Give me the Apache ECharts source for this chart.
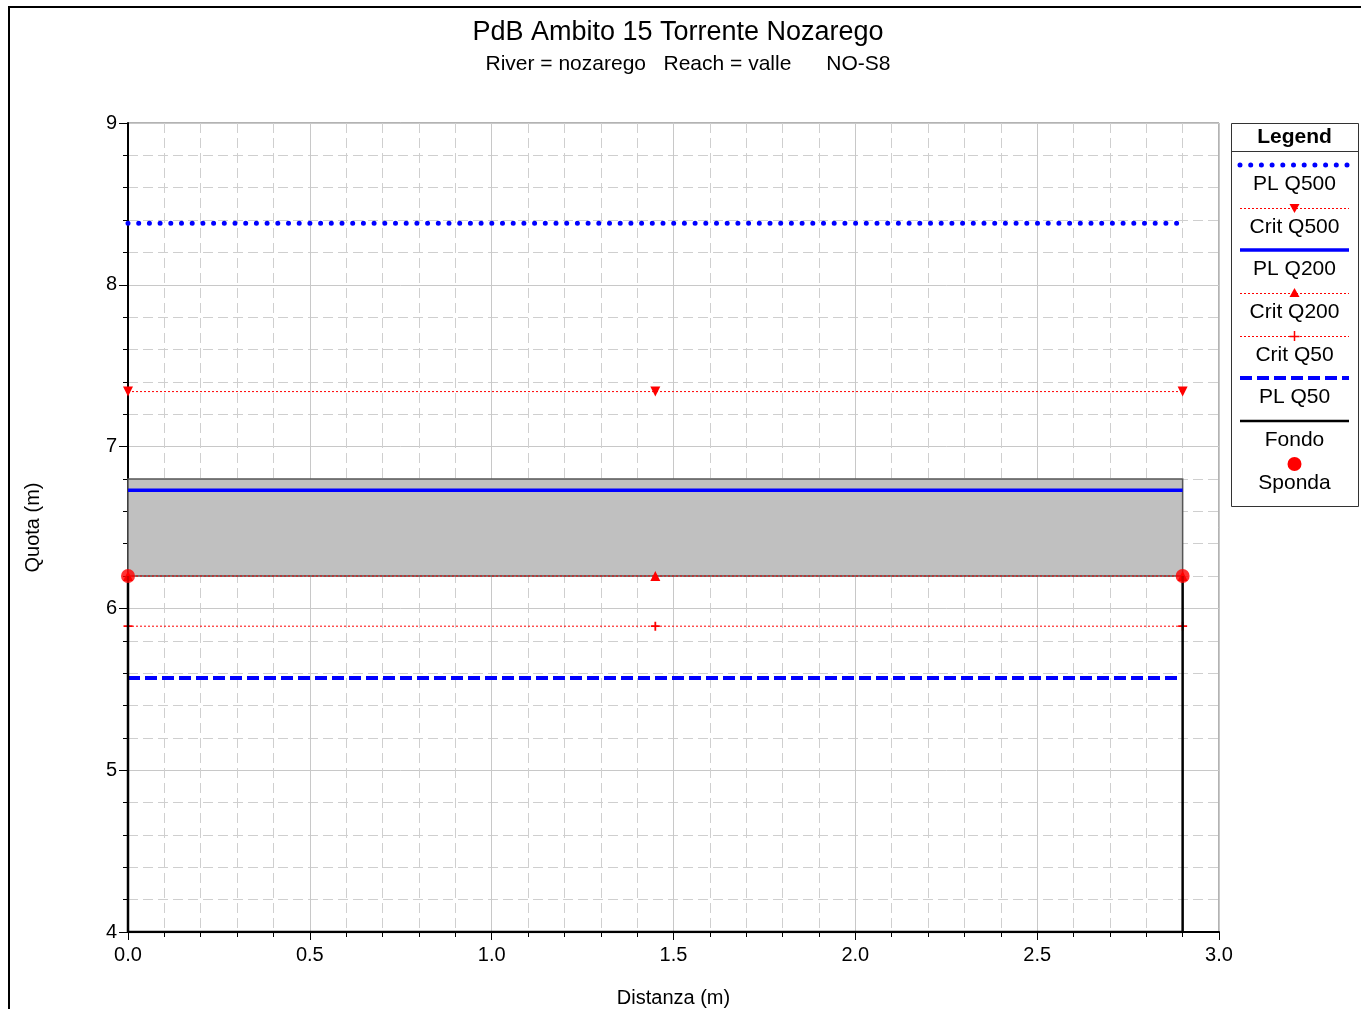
<!DOCTYPE html>
<html>
<head>
<meta charset="utf-8">
<script src="https://cdn.jsdelivr.net/npm/echarts@6/dist/echarts.min.js"></script>
<style>
  html, body { margin: 0; padding: 0; background: #fff; overflow: hidden; }
  #frame { position: absolute; left: 8px; top: 6px; width: 1400px; height: 1100px; border: 2px solid #000; box-sizing: border-box; }
  #chart { position: absolute; left: 0; top: 0; width: 1361px; height: 1009px; }
</style>
</head>
<body>
<div id="frame"></div>
<div id="chart"></div>
<script>
// stations along the section (m)
const stationX = [0, 1.45, 2.9]
// water levels (m)
const plQ500 = [8.38, 8.38, 8.38]
const critQ500 = [7.34, 7.34, 7.34]
const plQ200 = [6.73, 6.73, 6.73]
const critQ200 = [6.2, 6.2, 6.2]
const critQ50 = [5.89, 5.89, 5.89]
const plQ50 = [5.57, 5.57, 5.57]
// ground profile
const fondoX = [0, 0, 2.9, 2.9]
const fondoY = [6.2, 4.0, 4.0, 6.2]
// banks
const spondaX = [0, 2.9]
const spondaY = [6.2, 6.2]
// deck / obstruction (x0, y0, x1, y1)
const deck = [0, 6.2, 2.9, 6.8]

const legendNames = ['PL Q500', 'Crit Q500', 'PL Q200', 'Crit Q200', 'Crit Q50', 'PL Q50', 'Fondo', 'Sponda']

const FONT = 'Liberation Sans, Arial, sans-serif'
const plusPath = 'path://M4,0H6V4H10V6H6V10H4V6H0V4H4Z'

const styles = {
  'PL Q500': { line: { color: '#0000ff', width: 5, type: [0, 10.7], cap: 'round' } },
  'Crit Q500': { line: { color: '#ff0000', width: 1, type: [2, 2] }, symbol: 'triangle', rotate: 180, size: 10 },
  'PL Q200': { line: { color: '#0000ff', width: 3.5, type: 'solid' } },
  'Crit Q200': { line: { color: '#ff0000', width: 1, type: [2, 2] }, symbol: 'triangle', rotate: 0, size: 10 },
  'Crit Q50': { line: { color: '#ff0000', width: 1, type: [2, 2] }, symbol: plusPath, rotate: 0, size: 9 },
  'PL Q50': { line: { color: '#0000ff', width: 4, type: [12, 5] } },
  'Fondo': { line: { color: '#000000', width: 2.5, type: 'solid' } },
  'Sponda': { symbol: 'circle', size: 14 }
}

function pairs(xs, ys) {
  return xs.map((x, i) => [x, ys[i]])
}

function levelSeries(name, ys, withSymbol) {
  const s = styles[name]
  return {
    name,
    type: 'line',
    data: pairs(stationX, ys),
    z: 5,
    symbol: withSymbol ? s.symbol : 'none',
    symbolSize: s.size,
    symbolRotate: s.rotate || 0,
    showSymbol: !!withSymbol,
    itemStyle: { color: s.line.color },
    lineStyle: { color: s.line.color, width: s.line.width, type: s.line.type, cap: s.line.cap || 'butt' },
    animation: false,
    silent: true
  }
}

function buildLegend() {
  const left = 1231, top = 123, w = 127, h = 383
  const cx = left + w / 2
  const els = [
    { type: 'rect', shape: { x: left + 0.5, y: top + 0.5, width: w, height: h }, style: { fill: '#fff', stroke: '#333', lineWidth: 1 } },
    { type: 'line', shape: { x1: left, y1: 151.5, x2: left + w, y2: 151.5 }, style: { stroke: '#333', lineWidth: 1 } },
    { type: 'text', x: cx, y: 137, style: { text: 'Legend', font: 'bold 21px ' + FONT, fill: '#000', align: 'center', verticalAlign: 'middle' } }
  ]
  legendNames.forEach((name, i) => {
    const s = styles[name]
    const y0 = Math.round(165 + 42.65 * i)
    if (s.line) {
      const thin = s.line.width <= 1
      els.push({
        type: 'line',
        shape: { x1: 1240, y1: thin ? y0 + 0.5 : y0, x2: 1349, y2: thin ? y0 + 0.5 : y0 },
        style: { stroke: s.line.color, lineWidth: s.line.width, lineDash: Array.isArray(s.line.type) ? s.line.type : null, lineCap: s.line.cap || 'butt' }
      })
    }
    if (name === 'Crit Q500') {
      els.push({ type: 'polygon', shape: { points: [[cx - 5, y0 - 4], [cx + 5, y0 - 4], [cx, y0 + 5]] }, style: { fill: '#ff0000' } })
    } else if (name === 'Crit Q200') {
      els.push({ type: 'polygon', shape: { points: [[cx - 5, y0 + 4], [cx + 5, y0 + 4], [cx, y0 - 5]] }, style: { fill: '#ff0000' } })
    } else if (name === 'Crit Q50') {
      els.push({ type: 'line', shape: { x1: cx - 5, y1: y0 + 0.5, x2: cx + 5, y2: y0 + 0.5 }, style: { stroke: '#ff0000', lineWidth: 1.5 } })
      els.push({ type: 'line', shape: { x1: cx, y1: y0 - 5, x2: cx, y2: y0 + 5 }, style: { stroke: '#ff0000', lineWidth: 1.5 } })
    } else if (name === 'Sponda') {
      els.push({ type: 'circle', shape: { cx, cy: y0, r: 7 }, style: { fill: '#ff0000' } })
    }
    els.push({ type: 'text', x: cx, y: y0 + 19, style: { text: name, font: '21px ' + FONT, fill: '#000', align: 'center', verticalAlign: 'middle' } })
  })
  return els
}

const chart = echarts.init(document.getElementById('chart'), null, { renderer: 'canvas' })

const option = {
  animation: false,
  backgroundColor: 'transparent',
  textStyle: { fontFamily: FONT },
  grid: {
    left: 128, top: 123, right: 142, bottom: 77,
    outerBoundsMode: 'none',
    containLabel: false,
    show: true, borderColor: '#666', borderWidth: 1, backgroundColor: 'transparent'
  },
  xAxis: {
    type: 'value',
    min: 0,
    max: 3,
    interval: 0.5,
    name: 'Distanza (m)',
    nameLocation: 'middle',
    nameGap: 56,
    nameTextStyle: { color: '#000', fontSize: 20, fontFamily: FONT },
    axisLine: { show: true, onZero: false, lineStyle: { color: '#000', width: 2 } },
    axisTick: { show: true, length: 8, lineStyle: { color: '#000' } },
    minorTick: { show: true, splitNumber: 5, length: 5, lineStyle: { color: '#000' } },
    axisLabel: { color: '#000', fontSize: 20, fontFamily: FONT, margin: 13, formatter: v => v.toFixed(1) },
    splitLine: { show: true, lineStyle: { color: '#c8c8c8', width: 1 } },
    minorSplitLine: { show: true, lineStyle: { color: '#cfcfcf', width: 1, type: [10, 5] } }
  },
  yAxis: {
    type: 'value',
    min: 4,
    max: 9,
    interval: 1,
    name: 'Quota (m)',
    nameLocation: 'middle',
    nameGap: 85,
    nameTextStyle: { color: '#000', fontSize: 20, fontFamily: FONT },
    axisLine: { show: true, onZero: false, lineStyle: { color: '#000', width: 2 } },
    axisTick: { show: true, length: 9, lineStyle: { color: '#000' } },
    minorTick: { show: true, splitNumber: 5, length: 5, lineStyle: { color: '#000' } },
    axisLabel: { color: '#000', fontSize: 20, fontFamily: FONT, margin: 11 },
    splitLine: { show: true, lineStyle: { color: '#c8c8c8', width: 1 } },
    minorSplitLine: { show: true, lineStyle: { color: '#cfcfcf', width: 1, type: [10, 5] } }
  },
  graphic: [
    { type: 'text', x: 678, y: 33, style: { text: 'PdB Ambito 15 Torrente Nozarego', font: '27px ' + FONT, fill: '#000', align: 'center', verticalAlign: 'middle' } },
    { type: 'text', x: 688, y: 64, style: { text: 'River = nozarego   Reach = valle      NO-S8', font: '21px ' + FONT, fill: '#000', align: 'center', verticalAlign: 'middle' } }
  ].concat(buildLegend()),
  series: [
    {
      name: 'deck',
      type: 'custom',
      z: 2,
      data: [deck],
      encode: { x: [0, 2], y: [1, 3] },
      renderItem(params, api) {
        const p1 = api.coord([api.value(0), api.value(3)])
        const p2 = api.coord([api.value(2), api.value(1)])
        return {
          type: 'rect',
          shape: { x: p1[0], y: p1[1], width: p2[0] - p1[0], height: p2[1] - p1[1] },
          style: { fill: '#c0c0c0', stroke: '#555', lineWidth: 1.5 }
        }
      },
      silent: true
    },
    levelSeries('PL Q500', plQ500, false),
    levelSeries('Crit Q500', critQ500, true),
    levelSeries('PL Q200', plQ200, false),
    levelSeries('Crit Q200', critQ200, true),
    levelSeries('Crit Q50', critQ50, true),
    levelSeries('PL Q50', plQ50, false),
    {
      name: 'Fondo',
      type: 'line',
      z: 6,
      data: pairs(fondoX, fondoY),
      symbol: 'none',
      lineStyle: { color: '#000', width: 2.5 },
      silent: true
    },
    {
      name: 'Sponda',
      type: 'scatter',
      z: 7,
      data: pairs(spondaX, spondaY),
      symbol: 'circle',
      symbolSize: 14,
      itemStyle: { color: '#ff0000' },
      silent: true
    }
  ]
}

chart.setOption(option)
</script>
</body>
</html>
